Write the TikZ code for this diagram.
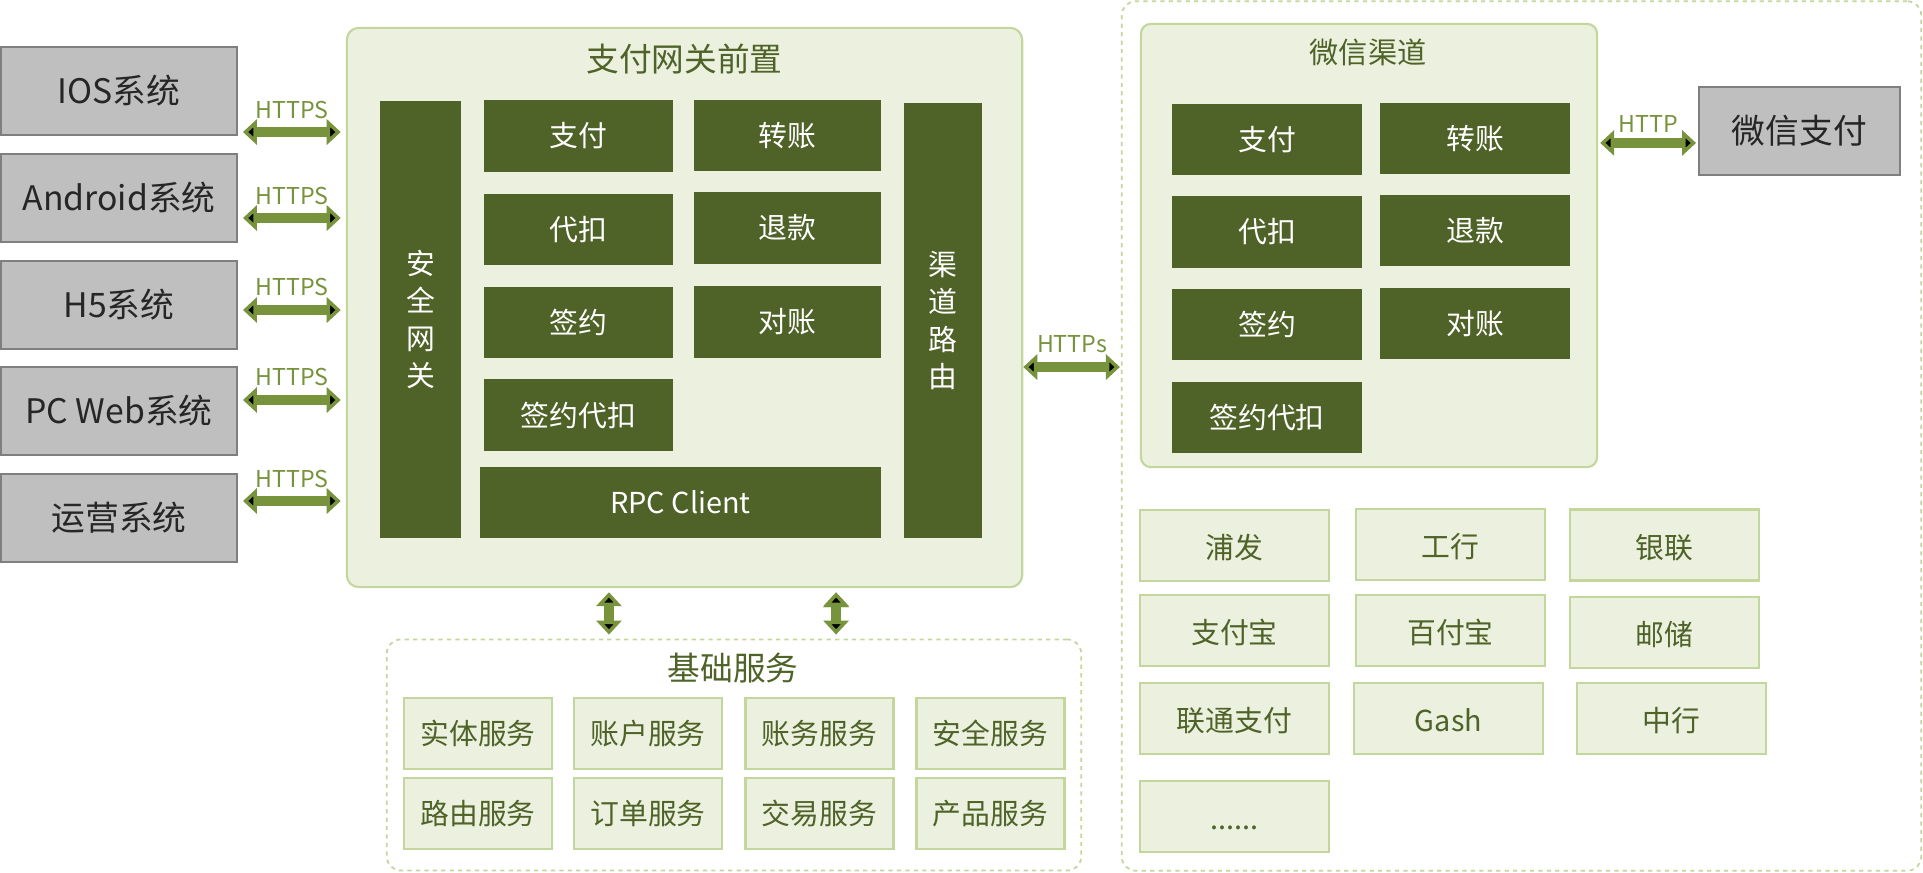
\documentclass[tikz,border=0pt]{standalone}
\usepackage{fontspec}
\setmainfont{Noto Sans CJK SC}
\usetikzlibrary{arrows.meta}
\definecolor{olivedark}{HTML}{4F6228}
\definecolor{olivemid}{HTML}{77933C}
\definecolor{olivelight}{HTML}{C3D69B}
\definecolor{olivepale}{HTML}{EBF1DE}
\definecolor{boxgray}{HTML}{BFBFBF}
\definecolor{linegray}{HTML}{7F7F7F}

\begin{document}
\begin{tikzpicture}[x=0.01cm,y=-0.01cm,>={Triangle[length=0.14cm,width=0.25cm]},
  sys node/.style={draw=linegray,fill=boxgray,text=black!85,line width=0.5pt,minimum width=2.36cm,minimum height=0.88cm,inner sep=0pt,font=\fontsize{9.6}{11}\selectfont},
  op node/.style={fill=olivedark,text=white,minimum width=1.89cm,minimum height=0.71cm,inner sep=0pt,font=\fontsize{8.2}{10}\selectfont},
  bar node/.style={op node,minimum width=0.81cm,minimum height=4.37cm,align=center,font=\fontsize{8.2}{10.7}\selectfont},
  svc node/.style={draw=olivelight,fill=olivepale,text=olivedark,line width=0.6pt,minimum width=1.48cm,minimum height=0.71cm,inner sep=0pt,font=\fontsize{8.2}{10}\selectfont},
  bank node/.style={svc node,minimum width=1.89cm,text height=0.88em,text depth=0.12em},
  group node/.style={draw=olivelight,fill=olivepale,line width=0.6pt,rounded corners=0.12cm,inner sep=0pt},
  frame node/.style={draw=olivelight,dash pattern=on 1.2pt off 1.2pt,line width=0.5pt,rounded corners=0.14cm,inner sep=0pt},
  title node/.style={text=olivedark,font=\fontsize{9.3}{11}\selectfont},
  link/.style={<->,draw=olivemid,line width=0.1cm,shorten <=0.05cm,shorten >=0.05cm},
  proto/.style={text=olivemid,font=\fontsize{6.6}{8}\selectfont,inner sep=0pt}]

  \useasboundingbox (0,0) rectangle (1923,872);

  \node[sys node] (ios) at (119,91) {IOS系统};
  \node[sys node] (android) at (119,198) {Android系统};
  \node[sys node] (h5) at (119,305) {H5系统};
  \node[sys node] (pcweb) at (119,411) {PC Web系统};
  \node[sys node] (ops) at (119,518) {运营系统};

  \node[group node,minimum width=6.75cm,minimum height=5.59cm] (gw) at (684.5,307.5) {};
  \node[title node] (gwtitle) at (684.5,59) {支付网关前置};
  \node[bar node] (sec) at (420.5,319.5) {安\\全\\网\\关};
  \node[bar node,minimum width=0.78cm,minimum height=4.35cm] (route) at (943,320.5) {渠\\道\\路\\由};
  \node[op node] (pay) at (578.5,136) {支付};
  \node[op node] (debit) at (578.5,229.5) {代扣};
  \node[op node] (sign) at (578.5,322.5) {签约};
  \node[op node] (signdebit) at (578.5,415) {签约代扣};
  \node[op node,minimum width=1.87cm] (transfer) at (787.5,135.5) {转账};
  \node[op node,minimum width=1.87cm] (refund) at (787.5,228) {退款};
  \node[op node,minimum width=1.87cm] (check) at (787.5,322) {对账};
  \node[op node,minimum width=4.01cm] (rpc) at (680.5,502.5) {RPC Client};

  \node[frame node,minimum width=6.94cm,minimum height=2.31cm] (base) at (734,755) {};
  \node[title node] (basetitle) at (733,668) {基础服务};
  \node[svc node] (entity) at (478,733.5) {实体服务};
  \node[svc node] (account) at (648,733.5) {账户服务};
  \node[svc node] (ledger) at (819.5,733.5) {账务服务};
  \node[svc node] (safe) at (990.5,733.5) {安全服务};
  \node[svc node] (routing) at (478,813.5) {路由服务};
  \node[svc node] (order) at (648,813.5) {订单服务};
  \node[svc node] (trade) at (819.5,813.5) {交易服务};
  \node[svc node] (product) at (990.5,813.5) {产品服务};

  \node[frame node,minimum width=7.99cm,minimum height=8.69cm] (ext) at (1521.5,436) {};
  \node[group node,rounded corners=0.1cm,minimum width=4.56cm,minimum height=4.43cm] (chan) at (1369,245.5) {};
  \node[title node,font=\fontsize{8.3}{10}\selectfont] (chantitle) at (1368,52) {微信渠道};
  \node[op node] (wpay) at (1267,139.5) {支付};
  \node[op node] (wdebit) at (1267,232) {代扣};
  \node[op node] (wsign) at (1267,324.5) {签约};
  \node[op node] (wsigndebit) at (1267,417.5) {签约代扣};
  \node[op node] (wtransfer) at (1475,138.5) {转账};
  \node[op node] (wrefund) at (1475,230.5) {退款};
  \node[op node] (wcheck) at (1475,323.5) {对账};
  \node[sys node,minimum width=2.01cm] (wxpay) at (1799.5,131) {微信支付};

  \node[bank node] (spdb) at (1234.5,545.5) {浦发};
  \node[bank node] (icbc) at (1450.5,544.5) {工行};
  \node[bank node] (unionpay) at (1664.5,545) {银联};
  \node[bank node] (alipay) at (1234.5,630.5) {支付宝};
  \node[bank node] (baifubao) at (1450.5,630.5) {百付宝};
  \node[bank node] (postal) at (1664.5,632.5) {邮储};
  \node[bank node] (unicom) at (1234.5,718.5) {联通支付};
  \node[bank node] (gash) at (1448.5,718.5) {Gash};
  \node[bank node] (boc) at (1671.5,718.5) {中行};
  \node[bank node] (more) at (1234.5,816.5) {......};

  \coordinate (h1) at ([yshift=-0.41cm]ios.east);
  \coordinate (h2) at ([yshift=-0.20cm]android.east);
  \coordinate (h3) at ([yshift=-0.05cm]h5.east);
  \coordinate (h4) at ([yshift=0.11cm]pcweb.east);
  \coordinate (h5) at ([yshift=0.17cm]ops.east);
  \coordinate (h6) at ([yshift=-0.595cm]gw.east);
  \coordinate (h7) at ([yshift=1.025cm]chan.east);
  \coordinate (v1) at ([xshift=-0.755cm]gw.south);
  \coordinate (v2) at ([xshift=1.515cm]gw.south);

\path[link]
  (h1) edge node[proto,yshift=0.22cm] {HTTPS} (h1 -| gw.west)
  (h2) edge node[proto,yshift=0.22cm] {HTTPS} (h2 -| gw.west)
  (h3) edge node[proto,yshift=0.23cm] {HTTPS} (h3 -| gw.west)
  (h4) edge node[proto,yshift=0.23cm] {HTTPS} (h4 -| gw.west)
  (h5) edge node[proto,yshift=0.22cm] {HTTPS} (h5 -| gw.west)
  (h6) edge[shorten <=0pt,shorten >=0.01cm] node[proto,yshift=0.23cm] {HTTPs} (h6 -| ext.west)
  (h7) edge[shorten <=0.02cm,shorten >=0.02cm] node[proto,yshift=0.19cm] {HTTP} (h7 -| wxpay.west)
  (v1) edge[shorten <=0.04cm,shorten >=0.04cm] (v1 |- base.north)
  (v2) edge[shorten <=0.04cm,shorten >=0.04cm] (v2 |- base.north)
;
\end{tikzpicture}
\end{document}
